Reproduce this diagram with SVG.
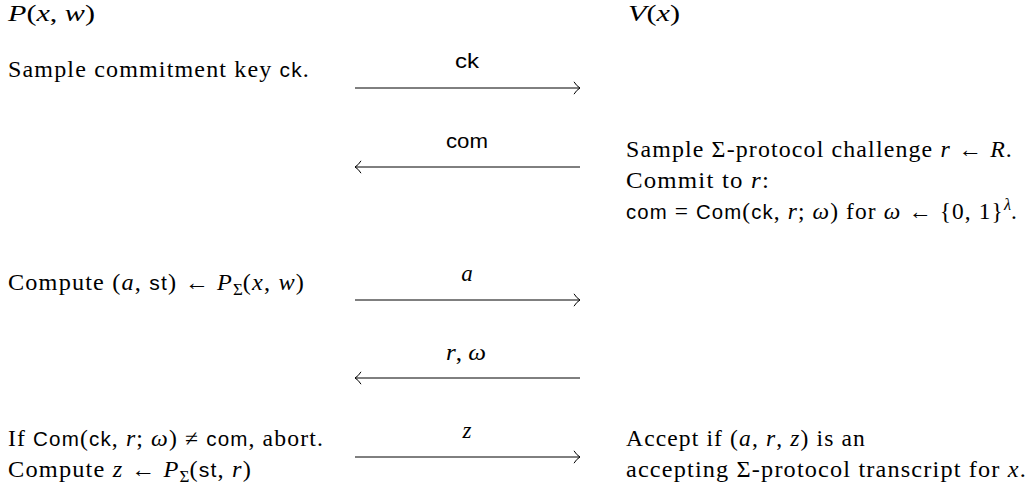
<svg xmlns="http://www.w3.org/2000/svg" width="1032" height="494" viewBox="0 0 1032 494">
<defs>
<style>
text{font-family:"Liberation Serif","DejaVu Serif",serif;font-size:23px;fill:#000;letter-spacing:1.1px}
.sf{font-family:"Liberation Sans","Arial",sans-serif;font-size:20px}
.it{font-style:italic}
.lbl{text-anchor:middle;letter-spacing:0}
.sub{font-size:16px;letter-spacing:0}
.ttl{font-size:23px;letter-spacing:0}
line{stroke:#000;stroke-width:1}
</style>
<marker id="ah" markerWidth="12" markerHeight="16" refX="7.5" refY="8" orient="auto-start-reverse" markerUnits="userSpaceOnUse">
<path d="M1.5,1.8 Q4,6 7.5,8 Q4,10 1.5,14.2" fill="none" stroke="#000" stroke-width="1"/>
</marker>
</defs>
<rect width="1032" height="494" fill="#fff"/>
<g id="prover-title"><text x="8" y="21" class="ttl" textLength="87" lengthAdjust="spacingAndGlyphs"><tspan class="it">P</tspan>(<tspan class="it">x</tspan>, <tspan class="it">w</tspan>)</text></g>
<g id="verifier-title"><text x="628" y="21" class="ttl" textLength="52" lengthAdjust="spacingAndGlyphs"><tspan class="it">V</tspan>(<tspan class="it">x</tspan>)</text></g>
<g id="p-step1"><text x="8" y="77" textLength="302" lengthAdjust="spacingAndGlyphs">Sample commitment key <tspan class="sf">ck</tspan>.</text></g>
<g id="v-step1">
<text x="626" y="157" textLength="387" lengthAdjust="spacingAndGlyphs">Sample Σ-protocol challenge <tspan class="it">r</tspan> ← <tspan class="it">R</tspan>.</text>
<text x="626" y="188" textLength="144" lengthAdjust="spacingAndGlyphs">Commit to <tspan class="it">r</tspan>:</text>
<text x="626" y="219" textLength="392" lengthAdjust="spacingAndGlyphs"><tspan class="sf">com</tspan> = <tspan class="sf">Com</tspan>(<tspan class="sf">ck</tspan>, <tspan class="it">r</tspan>; <tspan class="it">ω</tspan>) for <tspan class="it">ω</tspan> ← {0, 1}<tspan class="it sub" dy="-9">λ</tspan><tspan dy="9">.</tspan></text>
</g>
<g id="p-step2"><text x="8" y="290" textLength="297" lengthAdjust="spacingAndGlyphs">Compute (<tspan class="it">a</tspan>, <tspan class="sf">st</tspan>) ← <tspan class="it">P</tspan><tspan class="sub" dy="5">Σ</tspan><tspan dy="-5">(</tspan><tspan class="it">x</tspan>, <tspan class="it">w</tspan>)</text></g>
<g id="p-step3">
<text x="8" y="446" textLength="316" lengthAdjust="spacingAndGlyphs">If <tspan class="sf">Com</tspan>(<tspan class="sf">ck</tspan>, <tspan class="it">r</tspan>; <tspan class="it">ω</tspan>) ≠ <tspan class="sf">com</tspan>, abort.</text>
<text x="8" y="477" textLength="244" lengthAdjust="spacingAndGlyphs">Compute <tspan class="it">z</tspan> ← <tspan class="it">P</tspan><tspan class="sub" dy="5">Σ</tspan><tspan dy="-5">(</tspan><tspan class="sf">st</tspan>, <tspan class="it">r</tspan>)</text>
</g>
<g id="v-step2">
<text x="626" y="446" textLength="240" lengthAdjust="spacingAndGlyphs">Accept if (<tspan class="it">a</tspan>, <tspan class="it">r</tspan>, <tspan class="it">z</tspan>) is an</text>
<text x="626" y="477" textLength="401" lengthAdjust="spacingAndGlyphs">accepting Σ-protocol transcript for <tspan class="it">x</tspan>.</text>
</g>
<g id="connectors">
<line x1="355" y1="88" x2="580" y2="88" marker-end="url(#ah)"/>
<line x1="355" y1="167" x2="580" y2="167" marker-start="url(#ah)"/>
<line x1="355" y1="300" x2="580" y2="300" marker-end="url(#ah)"/>
<line x1="355" y1="378" x2="580" y2="378" marker-start="url(#ah)"/>
<line x1="355" y1="457" x2="580" y2="457" marker-end="url(#ah)"/>
<text x="467" y="68" class="sf lbl" textLength="24" lengthAdjust="spacingAndGlyphs">ck</text>
<text x="467" y="148" class="sf lbl" textLength="42" lengthAdjust="spacingAndGlyphs">com</text>
<text x="467" y="281" class="lbl it">a</text>
<text x="466" y="360" class="lbl" textLength="40" lengthAdjust="spacingAndGlyphs"><tspan class="it">r</tspan>, <tspan class="it">ω</tspan></text>
<text x="467" y="438" class="lbl it">z</text>
</g>
</svg>
